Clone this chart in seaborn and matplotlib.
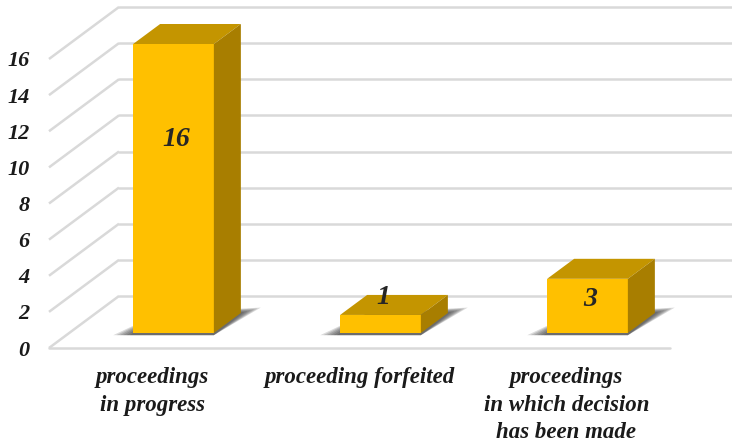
import numpy as np
import seaborn as sb, matplotlib.pyplot as plt
from matplotlib.patches import Polygon

categories = ['proceedings\nin progress', 'proceeding forfeited', 'proceedings\nin which decision\nhas been made']
values = [16, 1, 3]
value_labels = ['16', '1', '3']
yticks = [0, 2, 4, 6, 8, 10, 12, 14, 16]
label_y = [10.7, 1.95, 1.85]   # where Excel put the data labels

sb.set_style('white')
plt.rcParams['font.family'] = ['Liberation Serif', 'DejaVu Serif']

W, H = 732, 443
fig = plt.figure(figsize=(W / 100, H / 100), dpi=100)
fig.patch.set_facecolor('white')

# front plane (ticks, floor) and bar plane (a bit deeper in the box)
ax = fig.add_axes([49 / W, 95 / H, 621 / W, 289 / H])
axb = fig.add_axes([70 / W, 110 / H, 621 / W, 289 / H])
for a in (ax, axb):
    a.set_xlim(-0.5, 2.5); a.set_ylim(0, 16)
    a.patch.set_alpha(0)
    for s in a.spines.values():
        s.set_visible(False)
axb.set_zorder(ax.get_zorder() + 1)

# pixel -> data helpers
px_x = 207.0
px_y = 289.0 / 16
back_dx, back_dy = 70 / px_x, 52 / px_y
bar_dx, bar_dy = 27 / px_x, 20 / px_y

grid_c = '#D9D9D9'
for v in yticks:
    ax.plot([-0.5, -0.5 + back_dx], [v, v + back_dy], color=grid_c, lw=1.8, clip_on=False, solid_capstyle='butt')
    ax.plot([-0.5 + back_dx, 2.5 + back_dx], [v + back_dy] * 2, color=grid_c, lw=1.8, clip_on=False)
ax.plot([-0.5, 2.5], [0, 0], color=grid_c, lw=1.8, clip_on=False)

ax.set_yticks(yticks)
ax.set_yticklabels([str(t) for t in yticks], fontsize=16, fontweight='bold', fontstyle='italic', color='#1a1a1a')
ax.set_xticks(range(len(categories)))
ax.set_xticklabels(categories, fontsize=16.5, fontweight='bold', fontstyle='italic', color='#1a1a1a', linespacing=1.4)
ax.tick_params(axis='y', length=0, pad=14)
ax.tick_params(axis='x', length=0, pad=14)

# bars (front faces)
sb.barplot(x=list(range(len(values))), y=values, ax=axb, color='#FFC000', saturation=1, width=0.39,
           edgecolor='none', zorder=3, native_scale=True)
axb.set_xlim(-0.5, 2.5); axb.set_ylim(0, 16)
axb.set_xticks([]); axb.set_yticks([]); axb.set_xlabel(''); axb.set_ylabel('')

for p in axb.patches[:len(values)]:
    x0 = p.get_x(); x1 = x0 + p.get_width(); h = p.get_height()
    # soft shadow on the floor
    for k in range(6):
        g = 0.016 * (6 - k)
        sh = Polygon([(x0 - g, -0.12), (x1, -0.12),
                      (x1 + bar_dx + g, bar_dy * 1.0 + 0.05 * (6 - k)),
                      (x0 + bar_dx, bar_dy * 1.0)],
                     closed=True, facecolor='#202020', alpha=0.16, edgecolor='none', zorder=1, clip_on=False)
        axb.add_patch(sh)
    top = Polygon([(x0, h), (x1, h), (x1 + bar_dx, h + bar_dy), (x0 + bar_dx, h + bar_dy)],
                  closed=True, facecolor='#C49500', edgecolor='none', zorder=3, clip_on=False)
    side = Polygon([(x1, 0), (x1 + bar_dx, bar_dy), (x1 + bar_dx, h + bar_dy), (x1, h)],
                   closed=True, facecolor='#A87E00', edgecolor='none', zorder=3, clip_on=False)
    axb.add_patch(top); axb.add_patch(side)

for i, (lab, ly) in enumerate(zip(value_labels, label_y)):
    axb.text(i + 0.015, ly, lab, ha='center', va='center', fontsize=20, fontweight='bold',
             fontstyle='italic', color='#262626', zorder=5)

fig.savefig('out.png', dpi=100, facecolor='white')
